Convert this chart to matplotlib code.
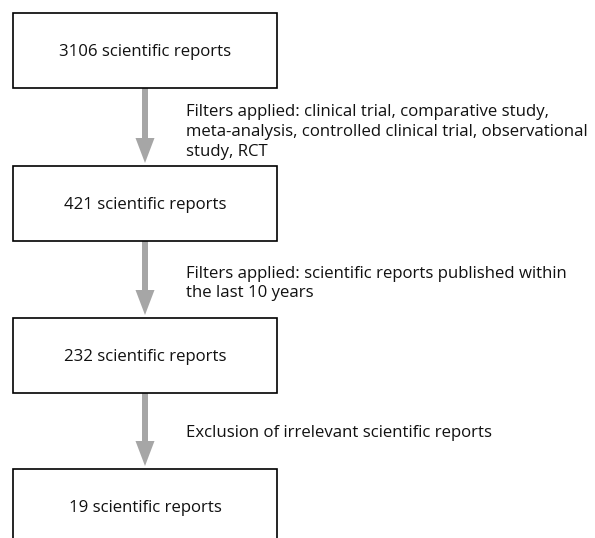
import matplotlib
matplotlib.use("Agg")
import matplotlib.pyplot as plt
from matplotlib.patches import Rectangle, FancyArrow

counts = [3106, 421, 232, 19]
box_labels = [f"{c} scientific reports" for c in counts]
step_labels = [
    "Filters applied: clinical trial, comparative study,\nmeta-analysis, controlled clinical trial, observational\nstudy, RCT",
    "Filters applied: scientific reports published within\nthe last 10 years",
    "Exclusion of irrelevant scientific reports",
]

W, H = 595, 538
fig = plt.figure(figsize=(W / 100, H / 100), dpi=100)
ax = fig.add_axes([0, 0, 1, 1])
ax.set_xlim(0, W)
ax.set_ylim(H, 0)
ax.axis("off")

font = ["Open Sans", "DejaVu Sans"]
fs = 12.1

box_x0, box_x1 = 13, 277
box_tops = [13, 166, 318, 469]
box_h = 75
cx = (box_x0 + box_x1) / 2

for top, lab in zip(box_tops, box_labels):
    ax.add_patch(Rectangle((box_x0, top), box_x1 - box_x0, box_h,
                           facecolor="white", edgecolor="black", lw=1.2, zorder=2))
    ax.text(cx, top + box_h / 2 + 1.5, lab, ha="center", va="center",
            fontsize=fs, family=font, color="#111111", zorder=3)

text_centers = [132, 283.5, 433]
for i, lab in enumerate(step_labels):
    y0 = box_tops[i] + box_h
    y1 = box_tops[i + 1]
    ax.add_patch(FancyArrow(cx, y0, 0, (y1 - 3) - y0, width=6, head_width=19,
                            head_length=25, length_includes_head=True,
                            color="#a6a6a6", lw=0, zorder=1))
    ax.text(186, text_centers[i], lab, ha="left", va="center",
            fontsize=fs, family=font, color="#111111", linespacing=1.33)

fig.savefig("out.png", dpi=100)
